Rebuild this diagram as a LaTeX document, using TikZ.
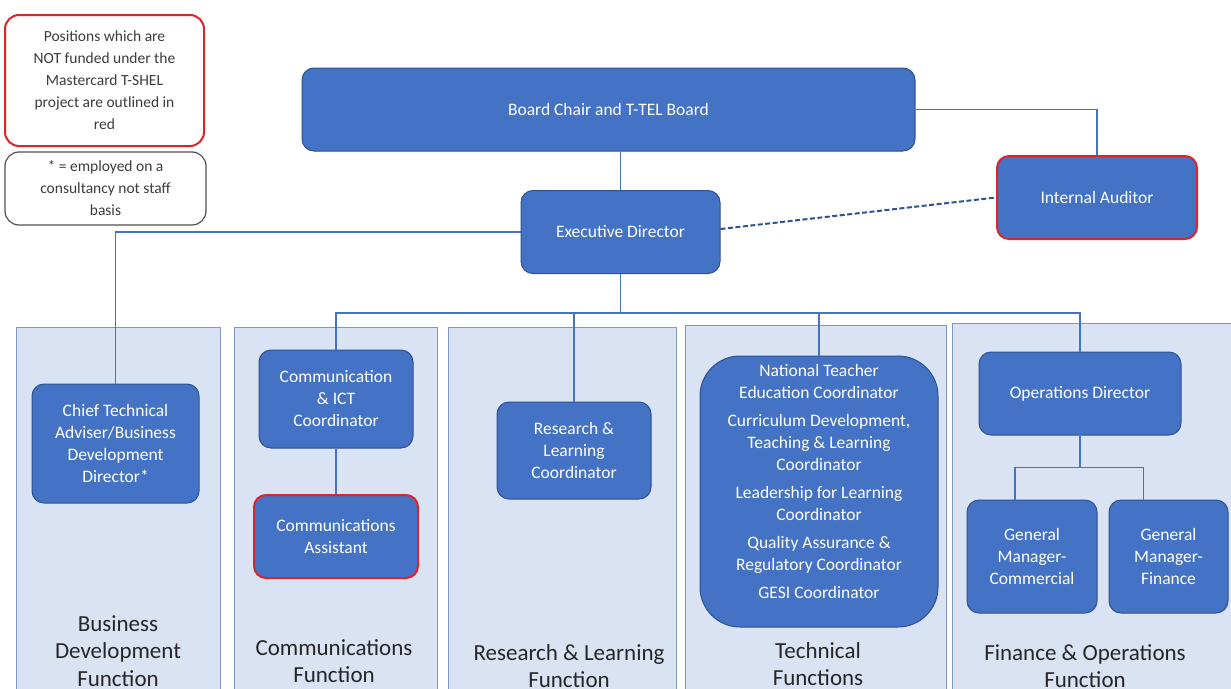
\documentclass[tikz,border=0pt]{standalone}
\usepackage{fontspec}
\setmainfont{Carlito}
\definecolor{roleblue}{HTML}{4472C4}
\definecolor{roleedge}{HTML}{2F528F}
\definecolor{panelfill}{HTML}{DAE3F3}
\definecolor{paneledge}{HTML}{7F96C4}
\definecolor{alertred}{HTML}{E0222B}
\definecolor{inkgray}{HTML}{262626}

\begin{document}
\begin{tikzpicture}[x=1pt, y=-1pt,
        role/.style={draw=roleedge, line width=1pt, fill=roleblue, rounded corners=12pt, align=center, text=white, inner sep=0pt, font=\fontsize{17.5}{22}\selectfont},
        unfunded/.style={draw=alertred, line width=2pt},
        panel/.style={draw=paneledge, fill=panelfill, line width=1pt, inner sep=0pt, anchor=north west, minimum height=400},
        fnlabel/.style={align=center, anchor=north, inner sep=0pt, text=inkgray, font=\fontsize{23}{27.5}\selectfont},
        note/.style={draw, rounded corners=14pt, fill=white, align=center, text=inkgray!90, line width=1.2pt, inner sep=0pt, font=\fontsize{15.5}{22}\selectfont},
        link/.style={draw=roleblue, line width=1.3pt},
        dashlink/.style={draw=roleedge, line width=2pt, dash pattern=on 5pt off 2.5pt}]
        \useasboundingbox (0,0) rectangle (1231,688);
        \clip (0,0) rectangle (1231,688);

        % function panels
        \node[panel, minimum width=204] (pbiz) at (16,327) {};
        \node[panel, minimum width=203] (pcom) at (234,327) {};
        \node[panel, minimum width=228] (pres) at (448,327) {};
        \node[panel, minimum width=261] (ptec) at (685,325) {};
        \node[panel, minimum width=290] (pfin) at (952,323) {};

        \node[fnlabel] (lbiz) at (118,615) {Business\\Development\\Function};
        \node[fnlabel] (lcom) at (334,639) {Communications\\Function};
        \node[fnlabel] (lres) at (569,644) {Research \& Learning\\Function};
        \node[fnlabel] (ltec) at (818,642) {Technical\\Functions};
        \node[fnlabel] (lfin) at (1085,644) {Finance \& Operations\\Function};

        % key
        \node[note, draw=alertred, line width=2pt, minimum width=199, minimum height=131] (keyred) at (104.5,80.5) {Positions which are\\NOT funded under the\\Mastercard T-SHEL\\project are outlined in\\red};
        \node[note, draw=inkgray!80, minimum width=201, minimum height=73] (keystar) at (105.5,188.5) {* = employed on a\\consultancy not staff\\basis};

        % roles
        \node[role, minimum width=613, minimum height=83] (board) at (608.5,109.5) {Board Chair and T-TEL Board};
        \node[role, minimum width=199, minimum height=83] (ed) at (620.5,232) {Executive Director};
        \node[role, unfunded, minimum width=200, minimum height=83] (ia) at (1097,197.5) {Internal Auditor};
        \node[role, minimum width=167, minimum height=119] (cta) at (115.5,443.5) {Chief Technical\\Adviser/Business\\Development\\Director*};
        \node[role, minimum width=154, minimum height=98] (comm) at (336,399) {Communication\\\& ICT\\Coordinator};
        \node[role, unfunded, minimum width=164, minimum height=83] (asst) at (336,536.5) {Communications\\Assistant};
        \node[role, minimum width=154, minimum height=97] (rl) at (574,450.5) {Research \&\\Learning\\Coordinator};
        \node[role, rounded corners=40pt, minimum width=238, minimum height=271] (tech) at (819,491.5) {National Teacher\\Education Coordinator\\[6pt]Curriculum Development,\\Teaching \& Learning\\Coordinator\\[6pt]Leadership for Learning\\Coordinator\\[6pt]Quality Assurance \&\\Regulatory Coordinator\\[6pt]GESI Coordinator\\[-2pt]};
        \node[role, minimum width=202, minimum height=83] (ops) at (1080,393.5) {Operations Director};
        \node[role, minimum width=130, minimum height=113] (gmc) at (1032,556.5) {General\\Manager-\\Commercial};
        \node[role, minimum width=119, minimum height=113] (gmf) at (1168.5,556.5) {General\\Manager-\\Finance};

        % reporting lines
        \draw[link] (ed.north) -- (ed.north |- board.south);
        \draw[link] (board.east) -| (ia.north);
        \draw[dashlink] ([yshift=3]ed.east) -- (ia.west);
        \draw[link] (ed.west) -| (cta.north);
        \draw[link] (ed.south) -- ++(0,39) coordinate (bus);
        \draw[link] (comm.north) |- (bus);
        \draw[link] (rl.north) |- (bus);
        \draw[link] (tech.north) |- (bus);
        \draw[link] (ops.north) |- (bus);
        \draw[link] (comm.south) -- (asst.north);
        \draw[link] (ops.south) -- ++(0,32) coordinate (fbus);
        \draw[link] ([xshift=-17]gmc.north) |- (fbus);
        \draw[link] ([xshift=-25]gmf.north) |- (fbus);
    \end{tikzpicture}
\end{document}
